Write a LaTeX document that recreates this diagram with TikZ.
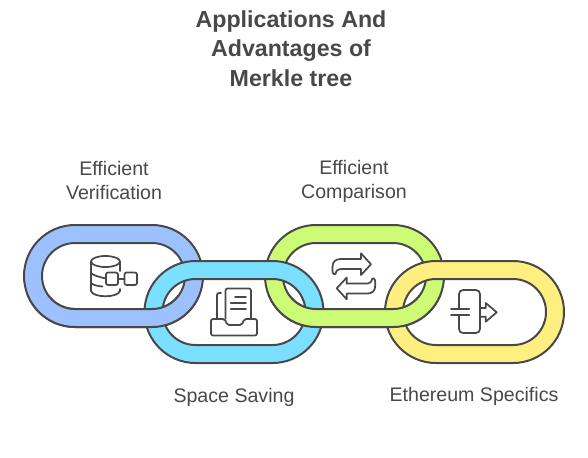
\documentclass[tikz,border=0pt]{standalone}
\usepackage{fontspec}
\setmainfont{Liberation Sans}
\usepackage{tikz}
\definecolor{ink}{HTML}{484848}
\definecolor{linkblue}{HTML}{9DC1FF}
\definecolor{linkcyan}{HTML}{7BE0FF}
\definecolor{linkgreen}{HTML}{CEFB75}
\definecolor{linkyellow}{HTML}{FFEE80}
\newcommand{\chainlink}[3]{%
  \draw[band, fill=#3] [rounded corners=38.25pt] (#1,#2) rectangle ++(179,102)
    [rounded corners=24.75pt] ($(#1,#2)+(18,18)$) rectangle ++(143,66);
}
\usetikzlibrary{calc}

\begin{document}
\begin{tikzpicture}[
    x=0.75pt, y=-0.75pt,
    band/.style={draw=ink, line width=1.5pt, even odd rule},
    icon/.style={draw=ink, line width=1.3pt, line join=round, line cap=round},
    title/.style={text=ink, font=\bfseries\fontsize{17.4}{22}\selectfont, align=center},
    label/.style={text=ink, font=\fontsize{14.7}{18}\selectfont, align=center}
]
\useasboundingbox (0,0) rectangle (588,457);

\node[title] (heading) at (291,48.5) {Applications And\\Advantages of\\Merkle tree};
\node[label] (verification) at (114,180) {Efficient\\Verification};
\node[label] (comparison) at (354,181.8) {Efficient\\Comparison};
\node[label] (saving) at (234,397.8) {Space Saving};
\node[label] (ethereum) at (474,396) {Ethereum Specifics};

% upper links first, lower links over them
\chainlink{24}{225}{linkblue}
\chainlink{265}{225}{linkgreen}
\chainlink{144.5}{261}{linkcyan}
\chainlink{385}{261}{linkyellow}
% bottom bands of the upper links pass in front
\begin{scope}
  \clip (0,295) rectangle (588,457);
  \chainlink{24}{225}{linkblue}
  \chainlink{265}{225}{linkgreen}
\end{scope}

% database
\draw[icon] (105.5,261.5) ellipse [x radius=14.5, y radius=5.5];
\draw[icon] (91,261.5) -- (91,291) .. controls (93,298) and (118,298) .. (120,291) -- (120,289);
\draw[icon] (120,261.5) -- (120,271);
\draw[icon] (91,273) .. controls (93,275) and (97,276.5) .. (106,278.5);
\draw[icon] (91,283) .. controls (93,285) and (97,286) .. (102.5,286.5);
\draw[icon, rounded corners=1.5pt] (106,272.5) rectangle (118,285);
\draw[icon, rounded corners=1.5pt] (124.5,272.5) rectangle (137,285);
\draw[icon] (118,278.7) -- (124.5,278.7);

% tray with papers
\draw[icon, rounded corners=1.5pt] (211,319) -- (225,319) -- (227,325) -- (242,325) -- (244,319)
  -- (257,319) -- (257,335.5) -- (211,335.5) -- cycle;
\draw[icon, rounded corners=1.5pt] (225.5,319) -- (225.5,288.5) -- (251,288.5) -- (251,319);
\draw[icon, rounded corners=1.5pt] (221,293) -- (217,293) -- (217,319);
\draw[icon] (235,296.7) -- (246,296.7);
\draw[icon] (230.7,302.7) -- (246,302.7);
\draw[icon] (230.7,308.7) -- (246,308.7);

% swap arrows
\foreach \ang in {0,180} {
  \draw[icon, rotate around={\ang:(353.85,276.3)}] (361,259) -- (341,259)
    .. controls (335,259) and (332.5,262) .. (332.5,267) -- (332.5,271)
    .. controls (332.5,274) and (335,275) .. (335.5,274)
    .. controls (336,270.5) and (338,269) .. (342,269) -- (361,269) -- (361,275)
    -- (371,264.3) -- (361,253.3) -- cycle;
}

% split box with arrow
\draw[icon, rounded corners=3pt] (459,309.3) -- (459,290) -- (480,290) -- (480,333) -- (459,333) -- (459,315.3);
\draw[icon] (451,309.3) -- (469.3,309.3);
\draw[icon] (451,315.3) -- (469.3,315.3);
\draw[icon] (480,308) -- (485.7,308) -- (485.7,303) -- (496.7,312.3) -- (485.7,321.7) -- (485.7,316.7) -- (480,316.7);
\end{tikzpicture}
\end{document}
